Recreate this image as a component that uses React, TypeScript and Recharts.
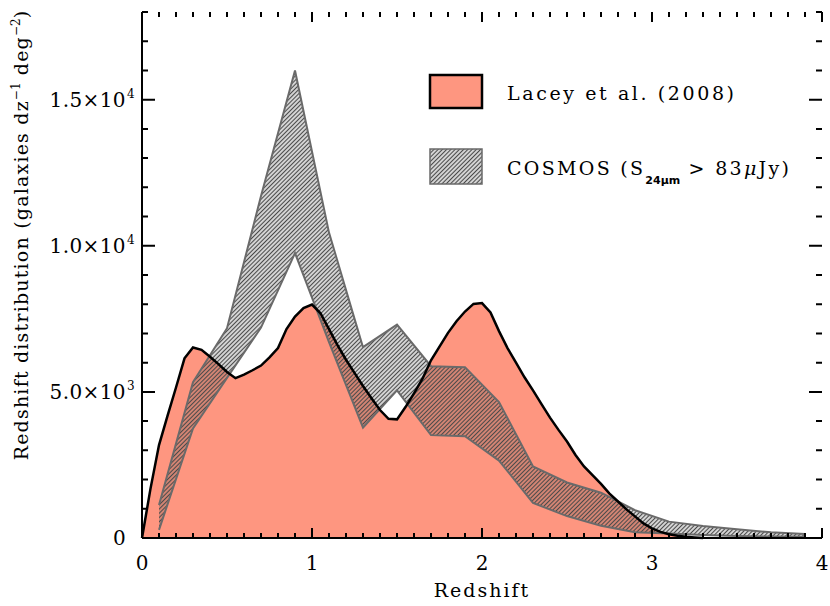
import { Area, ComposedChart, Line, XAxis, YAxis } from "recharts";

// Lacey et al. (2008) model, sampled every 0.05 in z
const laceyZ = [
  0, 0.05, 0.1, 0.15, 0.2, 0.25, 0.3, 0.35, 0.4, 0.45, 0.5, 0.55, 0.6, 0.65,
  0.7, 0.75, 0.8, 0.85, 0.9, 0.95, 1.0, 1.05, 1.1, 1.15, 1.2, 1.25, 1.3, 1.35,
  1.4, 1.45, 1.5, 1.55, 1.6, 1.65, 1.7, 1.75, 1.8, 1.85, 1.9, 1.95, 2.0, 2.05,
  2.1, 2.15, 2.2, 2.25, 2.3, 2.35, 2.4, 2.45, 2.5, 2.55, 2.6, 2.65, 2.7, 2.75,
  2.8, 2.85, 2.9, 2.95, 3.0, 3.05, 3.1, 3.15, 3.2, 3.25, 3.3,
];
const laceyN = [
  0, 1690, 3180, 4180, 5150, 6150, 6520, 6440, 6200, 5950, 5680, 5470, 5590,
  5740, 5900, 6180, 6500, 7150, 7580, 7870, 7990, 7690, 7150, 6600, 6100, 5650,
  5200, 4780, 4380, 4080, 4060, 4480, 4950, 5450, 6080, 6550, 7020, 7420, 7750,
  8010, 8040, 7720, 7080, 6500, 6000, 5500, 5050, 4580, 4120, 3700, 3300, 2840,
  2450, 2150, 1850, 1520, 1250, 980, 740, 500, 330, 210, 130, 80, 40, 20, 0,
];

// COSMOS band (S24 > 83 uJy), lower / upper envelope
const cosmosZ = [
  0.1, 0.3, 0.5, 0.7, 0.9, 1.1, 1.3, 1.5, 1.7, 1.9, 2.1, 2.3, 2.5, 2.7, 2.9,
  3.1, 3.3, 3.5, 3.7, 3.9,
];
const cosmosLow = [
  280, 3750, 5480, 7200, 9750, 6700, 3780, 5050, 3520, 3480, 2650, 1200, 750,
  420, 200, 150, 100, 70, 50, 40,
];
const cosmosHigh = [
  1130, 5330, 7180, 11700, 16000, 10450, 6530, 7300, 5880, 5840, 4650, 2450,
  1900, 1550, 950, 560, 410, 300, 195, 140,
];

const majorX = [0, 1, 2, 3, 4];
const minorX = Array.from({ length: 41 }, (_, i) => i / 10);
const yLabels = ["0", "5.0×10", "1.0×10", "1.5×10"];
const yExp = ["", "3", "4", "4"];
const majorY = [0, 5000, 10000, 15000];
const minorY = Array.from({ length: 19 }, (_, i) => i * 1000);

const X_MAX = 4;
const Y_MAX = 18000;
// plot box in px
const PLOT_LEFT = 142;
const PLOT_W = 680;
const PLOT_BOTTOM = 538;
// tick lengths in data units (plot is 680 x 526 px)
const TX_MINOR = 5 * (Y_MAX / 526);
const TX_MAJOR = 10 * (Y_MAX / 526);
const TY_MINOR = 6 * (X_MAX / PLOT_W);
const TY_MAJOR = 13 * (X_MAX / PLOT_W);

const SALMON = "#FE9680";
const BAND = "#6a6a6a";
const FONT = "'DejaVu Serif', serif";

const key = (z: number) => z.toFixed(2);
const rows = new Map<string, any>();
laceyZ.forEach((z, i) => rows.set(key(z), { z, lacey: laceyN[i] }));
cosmosZ.forEach((z, i) => {
  const r = rows.get(key(z)) || { z };
  r.cosmos = [cosmosLow[i], cosmosHigh[i]];
  rows.set(key(z), r);
});
const data = [...rows.values()].sort((a, b) => a.z - b.z);

const isMajorX = (v: number) => majorX.some((m) => Math.abs(m - v) < 1e-6);
const isMajorY = (v: number) => majorY.includes(v);

// inward tick marks (top, left, right) as broken segments (null = pen up)
const tickMarks: { z: number; t: number | null }[] = [];
const seg = (z1: number, t1: number, z2: number, t2: number) => {
  tickMarks.push({ z: z1, t: t1 }, { z: z2, t: t2 }, { z: z2, t: null });
};
minorX.forEach((v) => {
  const len = isMajorX(v) ? TX_MAJOR : TX_MINOR;
  seg(v, Y_MAX, v, Y_MAX - len);
});
minorY.forEach((v) => {
  const len = isMajorY(v) ? TY_MAJOR : TY_MINOR;
  seg(0, v, len, v);
  seg(X_MAX, v, X_MAX - len, v);
});

const BottomLabel = ({ x, y, payload }: any) => (
  <text x={x} y={y + 32} textAnchor="middle" fontSize={20} fontFamily={FONT} fill="#000">
    {Math.round(payload.value)}
  </text>
);

const LeftLabel = ({ x, y, payload }: any) => {
  const idx = majorY.indexOf(payload.value);
  return (
    <g>
      <text x={x - 16} y={y + 7} textAnchor="end" fontSize={20} fontFamily={FONT} letterSpacing={0.4} fill="#000">
        {yLabels[idx]}
      </text>
      {yExp[idx] && (
        <text x={x - 15} y={y - 2} fontSize={12} fontFamily={FONT} fill="#000">
          {yExp[idx]}
        </text>
      )}
    </g>
  );
};

const axisLine = { stroke: "#000", strokeWidth: 2 };
const layer = { position: "absolute" as const, left: 0, top: 0 };

export default function App() {
  return (
    <div style={{ position: "absolute", left: 0, top: 0, width: 830, height: 606, background: "#fff" }}>
      <ComposedChart width={830} height={606} data={data} margin={{ top: 12, right: 8, bottom: 0, left: 0 }}>
        <defs>
          <pattern id="hatch" patternUnits="userSpaceOnUse" width="3" height="3" patternTransform="rotate(45)">
            <line x1="1.5" y1="0" x2="1.5" y2="3" stroke="#4a4a4a" strokeWidth="1.5" />
          </pattern>
        </defs>
        <XAxis xAxisId="b" dataKey="z" type="number" domain={[0, X_MAX]} ticks={majorX} interval={0}
          height={68} tickSize={0} tickMargin={0} tickLine={false} axisLine={axisLine} tick={<BottomLabel />} />
        <XAxis xAxisId="t" orientation="top" dataKey="z" type="number" domain={[0, X_MAX]} ticks={majorX}
          height={0} tick={false} tickLine={false} axisLine={axisLine} />
        <YAxis yAxisId="l" type="number" domain={[0, Y_MAX]} ticks={majorY} interval={0}
          width={142} tickSize={0} tickMargin={0} tickLine={false} axisLine={axisLine} tick={<LeftLabel />} />
        <YAxis yAxisId="r" orientation="right" type="number" domain={[0, Y_MAX]} ticks={majorY}
          width={0} tick={false} tickLine={false} axisLine={axisLine} />
        <Area
          xAxisId="b"
          yAxisId="l"
          type="linear"
          dataKey="lacey"
          stroke="none"
          fill={SALMON}
          fillOpacity={1}
          connectNulls
          isAnimationActive={false}
        />
        <Area
          xAxisId="b"
          yAxisId="l"
          type="linear"
          dataKey="cosmos"
          stroke={BAND}
          strokeWidth={2}
          fill="url(#hatch)"
          fillOpacity={1}
          connectNulls
          isAnimationActive={false}
        />
        <Line
          xAxisId="b"
          yAxisId="l"
          type="linear"
          dataKey="lacey"
          stroke="#000"
          strokeWidth={2.5}
          dot={false}
          activeDot={false}
          connectNulls
          isAnimationActive={false}
        />
      </ComposedChart>

      {/* tick marks on a transparent chart laid over the first, same plot box and domains */}
      <div style={layer}>
        <ComposedChart width={830} height={606} data={tickMarks} margin={{ top: 12, right: 8, bottom: 68, left: 142 }}>
          <XAxis dataKey="z" type="number" domain={[0, X_MAX]} hide />
          <YAxis type="number" domain={[0, Y_MAX]} hide />
          <Line
            type="linear"
            dataKey="t"
            stroke="#000"
            strokeWidth={2}
            dot={false}
            activeDot={false}
            connectNulls={false}
            isAnimationActive={false}
          />
        </ComposedChart>
      </div>

      <svg width={830} height={606} style={{ ...layer, pointerEvents: "none" }}>
        {/* bottom axis tick marks */}
        {minorX.map((v) => {
          const px = PLOT_LEFT + (v / X_MAX) * PLOT_W;
          return (
            <line
              key={v}
              x1={px}
              x2={px}
              y1={PLOT_BOTTOM}
              y2={PLOT_BOTTOM - (isMajorX(v) ? 10 : 5)}
              stroke="#000"
              strokeWidth={2}
            />
          );
        })}

        {/* legend */}
        <rect x={430} y={75} width={52} height={33} fill={SALMON} stroke="#000" strokeWidth={2.5} />
        <text x={507} y={100} fontSize={19} fontFamily={FONT} letterSpacing={2.6} fill="#000">
          Lacey et al. (2008)
        </text>
        <rect x={430} y={149} width={52} height={35} fill="url(#hatch)" stroke={BAND} strokeWidth={1.5} />
        <text x={507} y={175} fontSize={19} fontFamily={FONT} letterSpacing={2.3} fill="#000">
          COSMOS (S
          <tspan dy={9} fontSize={11} fontFamily="'DejaVu Sans', sans-serif" fontWeight="bold" letterSpacing={0}>
            24μm
          </tspan>
          <tspan dy={-9}> &gt; 83</tspan>
          <tspan fontStyle="italic">μ</tspan>
          <tspan>Jy)</tspan>
        </text>

        {/* axis titles */}
        <text x={482} y={597} textAnchor="middle" fontSize={19} fontFamily={FONT} letterSpacing={2} fill="#000">
          Redshift
        </text>
        <text
          transform="translate(28,235) rotate(-90)"
          textAnchor="middle"
          fontSize={19}
          fontFamily={FONT}
          letterSpacing={1.2}
          fill="#000"
        >
          Redshift distribution (galaxies dz
          <tspan dy={-8} fontSize={12} letterSpacing={0}>−1</tspan>
          <tspan dy={8}> deg</tspan>
          <tspan dy={-8} fontSize={12} letterSpacing={0}>−2</tspan>
          <tspan dy={8}>)</tspan>
        </text>
      </svg>
    </div>
  );
}
